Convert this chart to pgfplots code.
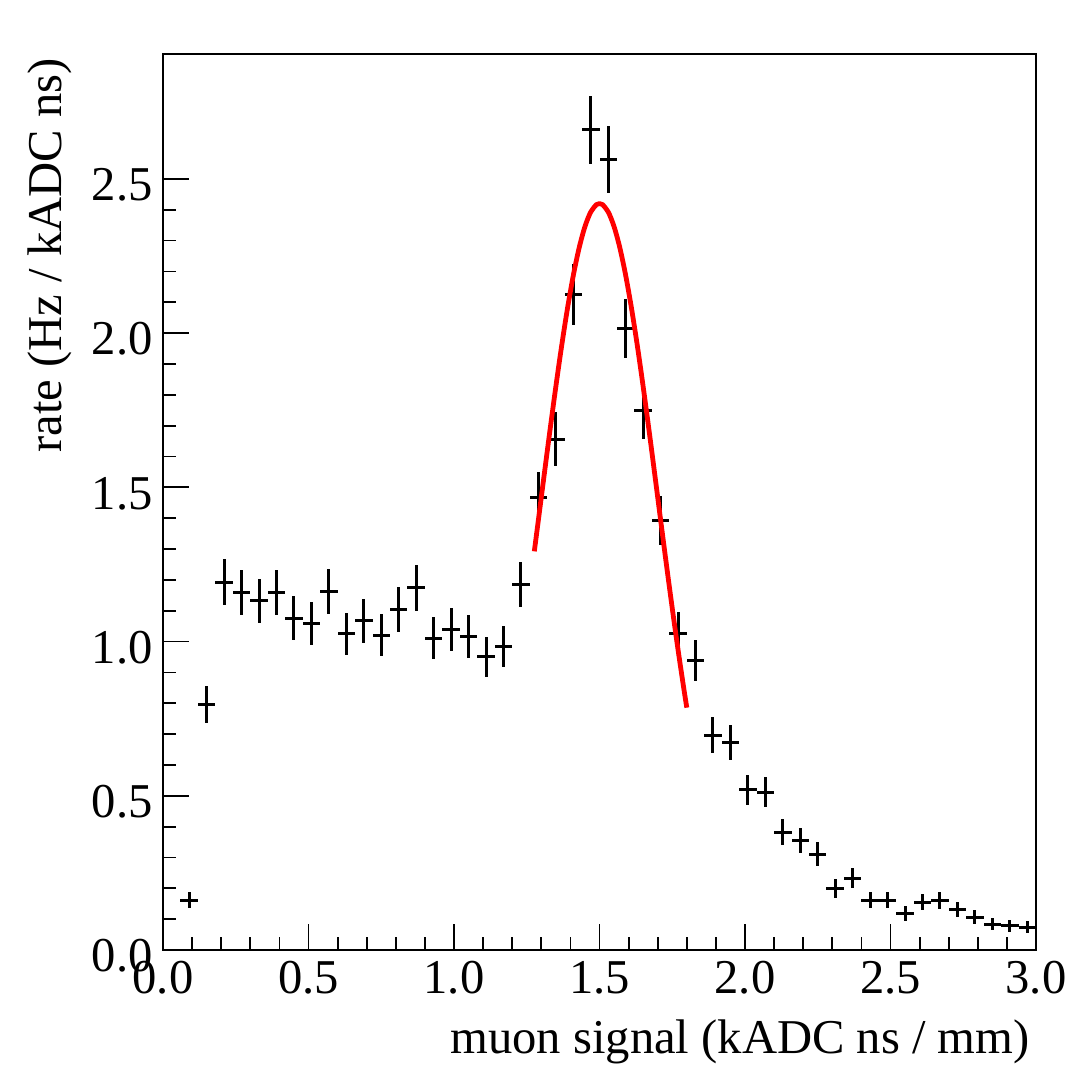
\documentclass[border=0pt]{standalone}
\usepackage{fontspec}
\setmainfont{Liberation Serif}
\usepackage{pgfplots}
\usepackage{pgfplotstable}
\pgfplotsset{compat=1.18}
\newcommand\fs{\fontsize{24.3pt}{29pt}\selectfont}
\pgfplotstableread{
x y ex ey
0.09 0.162 0.03 0.0274
0.15 0.795 0.03 0.0606
0.21 1.193 0.03 0.0743
0.27 1.160 0.03 0.0732
0.33 1.132 0.03 0.0724
0.39 1.160 0.03 0.0732
0.45 1.076 0.03 0.0705
0.51 1.058 0.03 0.0699
0.57 1.163 0.03 0.0733
0.63 1.025 0.03 0.0688
0.69 1.067 0.03 0.0702
0.75 1.021 0.03 0.0687
0.81 1.104 0.03 0.0714
0.87 1.174 0.03 0.0737
0.93 1.011 0.03 0.0684
0.99 1.040 0.03 0.0693
1.05 1.016 0.03 0.0685
1.11 0.950 0.03 0.0663
1.17 0.984 0.03 0.0675
1.23 1.185 0.03 0.0740
1.29 1.466 0.03 0.0823
1.35 1.656 0.03 0.0875
1.41 2.126 0.03 0.0991
1.47 2.659 0.03 0.1109
1.53 2.563 0.03 0.1089
1.59 2.015 0.03 0.0965
1.65 1.748 0.03 0.0899
1.71 1.393 0.03 0.0803
1.77 1.026 0.03 0.0689
1.83 0.938 0.03 0.0659
1.89 0.697 0.03 0.0568
1.95 0.673 0.03 0.0558
2.01 0.519 0.03 0.0490
2.07 0.511 0.03 0.0486
2.13 0.382 0.03 0.0420
2.19 0.355 0.03 0.0405
2.25 0.311 0.03 0.0379
2.31 0.199 0.03 0.0303
2.37 0.233 0.03 0.0328
2.43 0.162 0.03 0.0274
2.49 0.162 0.03 0.0274
2.55 0.119 0.03 0.0235
2.61 0.155 0.03 0.0268
2.67 0.160 0.03 0.0272
2.73 0.132 0.03 0.0247
2.79 0.106 0.03 0.0221
2.85 0.084 0.03 0.0197
2.91 0.079 0.03 0.0191
2.97 0.074 0.03 0.0185
}\datatab
\pgfplotstableread{
x y
1.276 1.2925
1.29 1.3944
1.31 1.5411
1.33 1.6863
1.35 1.8267
1.37 1.9592
1.39 2.0803
1.41 2.1870
1.43 2.2763
1.45 2.3455
1.47 2.3929
1.49 2.4170
1.50 2.4200
1.51 2.4170
1.53 2.3929
1.55 2.3455
1.57 2.2763
1.59 2.1870
1.61 2.0803
1.63 1.9592
1.65 1.8267
1.67 1.6863
1.69 1.5411
1.71 1.3944
1.73 1.2492
1.75 1.1079
1.77 0.9729
1.79 0.8458
1.80 0.7857
}\fittab
\begin{document}
\begin{tikzpicture}
\useasboundingbox (0,0) rectangle (540pt,540pt);
\begin{axis}[
  at={(81.5pt,65pt)}, anchor=south west,
  scale only axis, width=436.5pt, height=448pt,
  xmin=0, xmax=3, ymin=0, ymax=2.905,
  axis line style={line width=1pt, black},
  tick pos=left, tick align=inside,
  major tick length=13pt, minor tick length=6.5pt,
  every tick/.style={line width=0.9pt, black},
  xtick={0,0.5,1,1.5,2,2.5,3}, ytick={0,0.5,1,1.5,2,2.5},
  minor x tick num=4, minor y tick num=4,
  xticklabel style={font=\fs, anchor=north, inner sep=0pt, yshift=-5.3pt},
  yticklabel style={font=\fs, anchor=east, inner sep=0pt, xshift=-5pt, yshift=-3pt},
  /pgf/number format/.cd, fixed, fixed zerofill, precision=1, assume math mode=true, /pgfplots/.cd,
  xlabel={muon signal (kADC ns / mm)},
  xlabel style={font=\fs, at={(axis description cs:0.9931,-0.11496)}, anchor=base east, inner sep=0pt},
  ylabel={rate (Hz / kADC ns)},
  ylabel style={font=\fs, at={(axis description cs:-0.1168,0.9955)}, anchor=base east, inner sep=0pt},
]
\addplot[draw=none, mark=none,
  error bars/.cd, x dir=both, x explicit, y dir=both, y explicit, error mark=none,
  error bar style={draw=black, line width=1.5pt}]
  table[x=x, y=y, x error=ex, y error=ey]{\datatab};
\addplot[red, line width=2.4pt, smooth, line join=round] table[x=x, y=y]{\fittab};
\end{axis}
\end{tikzpicture}
\end{document}
